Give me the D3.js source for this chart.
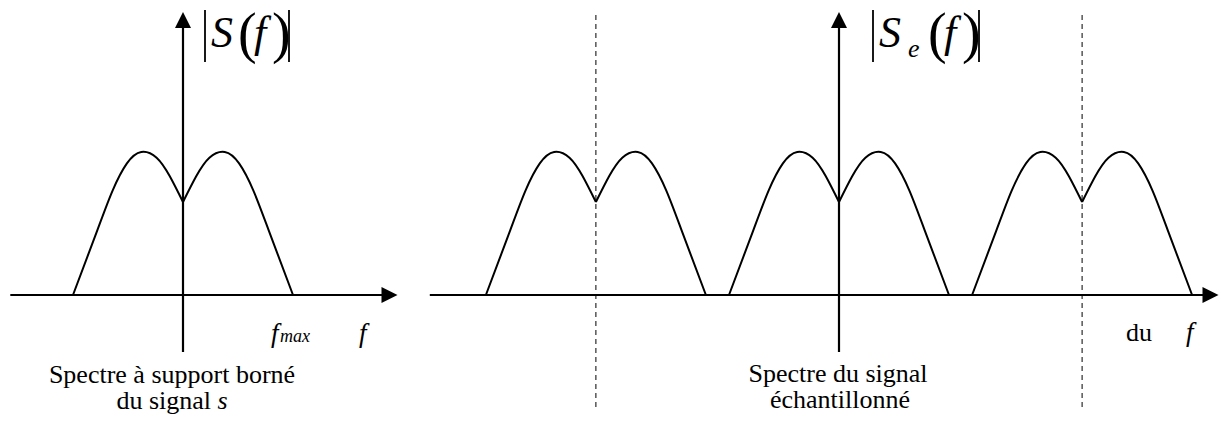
<!DOCTYPE html>
<html>
<head>
<meta charset="utf-8">
<script src="https://cdn.jsdelivr.net/npm/d3@7"></script>
</head>
<body style="margin:0">
<svg class="figure" width="1221" height="428" style="font-family: 'Liberation Serif', Tinos, FreeSerif, 'DejaVu Serif', serif"></svg>
<script>
// one half-lobe of the spectrum (f in units of fmax, amplitude vs peak)
var lobeFreq = [-1, -0.78, -0.64, -0.51, -0.38, -0.24, -0.12, 0];
var lobeAmp  = [0, 0.45, 0.73, 0.92, 1.0, 0.96, 0.83, 0.65];
// sampling frequency (in fmax units) and the replicas drawn on the right
var fe = 2.21;
var replicas = [-1, 0, 1];
var captionLeft = ["Spectre à support borné", "du signal "];
var captionRight = ["Spectre du signal", "échantillonné"];

var serif = "'Liberation Serif', Tinos, FreeSerif, 'DejaVu Serif', serif";
var svg = d3.select("svg.figure");

var y = d3.scaleLinear().domain([0, 1]).range([295, 152]);
var xLeft = d3.scaleLinear().domain([-1, 1]).range([73, 293]);
var xRight = d3.scaleLinear().domain([-1, 1]).range([729, 949]);

var halfLeft = lobeFreq.map(function(f, i) { return {f: f, a: lobeAmp[i]}; });
var halfRight = halfLeft.map(function(d) { return {f: -d.f, a: d.a}; }).reverse();

function txt(s, xx, yy, size, italic, mid) {
  var t = svg.append("text")
    .attr("x", xx).attr("y", yy)
    .style("font-family", serif)
    .attr("font-size", size)
    .text(s);
  if (mid) t.attr("text-anchor", "middle");
  if (italic) t.style("font-style", "italic");
  return t;
}

function drawSpectrum(x, shift) {
  var line = d3.line()
    .x(function(d) { return x(d.f + shift); })
    .y(function(d) { return y(d.a); })
    .curve(d3.curveNatural);
  [halfLeft, halfRight].forEach(function(half) {
    svg.append("path")
      .attr("d", line(half))
      .attr("fill", "none")
      .attr("stroke", "#000")
      .attr("stroke-width", 2);
  });
}

function arrowH(x1, x2, yy) {
  svg.append("line")
    .attr("x1", x1).attr("x2", x2 - 12)
    .attr("y1", yy).attr("y2", yy)
    .attr("stroke", "#000").attr("stroke-width", 2.2);
  svg.append("path")
    .attr("d", "M" + x2 + "," + yy + " L" + (x2 - 16) + "," + (yy - 8) + " L" + (x2 - 16) + "," + (yy + 8) + " Z");
}

function arrowV(xx, y1, y2) {
  svg.append("line")
    .attr("x1", xx).attr("x2", xx)
    .attr("y1", y1).attr("y2", y2 + 12)
    .attr("stroke", "#000").attr("stroke-width", 2.2);
  svg.append("path")
    .attr("d", "M" + xx + "," + y2 + " L" + (xx - 8) + "," + (y2 + 16) + " L" + (xx + 8) + "," + (y2 + 16) + " Z");
}

function bar(xx) {
  svg.append("line")
    .attr("x1", xx).attr("x2", xx)
    .attr("y1", 10).attr("y2", 62)
    .attr("stroke", "#000").attr("stroke-width", 1.8);
}

// ---- left chart
arrowH(xLeft(-1.57), xLeft(1.95), y(0));
arrowV(xLeft(0), 352, 12);
drawSpectrum(xLeft, 0);

bar(205); bar(289);
txt("S", 211, 47, 44, true);
txt("(", 238, 52, 56);
txt("f", 254, 47, 44, true);
txt(")", 272, 52, 56);

txt("f", xLeft(0.8), 342, 27, true);
txt("max", xLeft(0.8) + 9, 342, 18, true);
txt("f", xLeft(1.6), 342, 27, true);

txt(captionLeft[0], 172, 383, 26, false, true);
var cap2 = txt(captionLeft[1], 172, 409, 26, false, true);
cap2.append("tspan").style("font-style", "italic").text("s");

// ---- right chart
replicas.forEach(function(k) {
  if (k !== 0) {
    svg.append("line")
      .attr("x1", xRight(k * fe)).attr("x2", xRight(k * fe))
      .attr("y1", 15).attr("y2", 410)
      .attr("stroke", "#000").attr("stroke-width", 1)
      .attr("stroke-dasharray", "5,4");
  }
});
arrowH(xRight(-3.72), xRight(3.45), y(0));
arrowV(xRight(0), 352, 12);
replicas.forEach(function(k) { drawSpectrum(xRight, k * fe); });

bar(873); bar(979);
txt("S", 879, 47, 44, true);
txt("e", 908, 57, 26, true);
txt("(", 928, 52, 56);
txt("f", 944, 47, 44, true);
txt(")", 962, 52, 56);

txt("du", 1126, 341, 26);
txt("f", 1186, 341, 27, true);

txt(captionRight[0], 838, 382, 26, false, true);
txt(captionRight[1], 840, 408, 26, false, true);
</script>
</body>
</html>
